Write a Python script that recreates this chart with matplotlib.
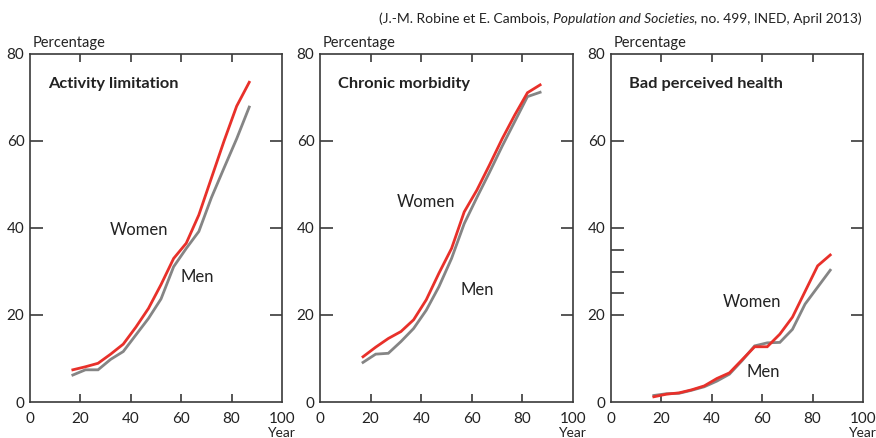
import matplotlib
matplotlib.use("Agg")
import matplotlib.pyplot as plt
from matplotlib.ticker import FixedLocator
from matplotlib.transforms import blended_transform_factory

plt.rcParams['font.family'] = ['Lato', 'DejaVu Sans']

ages = [17, 22, 27, 32, 37, 42, 47, 52, 57, 62, 67, 72, 77, 82, 87]

act_women = [7.4, 8.1, 8.9, 11.0, 13.3, 17.2, 21.5, 27.0, 33.0, 36.5, 43.0, 51.5, 60.0, 68.0, 73.5]
act_men = [6.2, 7.4, 7.4, 9.8, 11.6, 15.4, 19.2, 23.7, 31.1, 35.3, 39.2, 47.0, 53.8, 60.5, 67.8]

chr_women = [10.4, 12.6, 14.6, 16.2, 18.9, 23.5, 29.6, 35.3, 43.7, 48.7, 54.5, 60.5, 66.0, 71.1, 72.9]
chr_men = [9.1, 11.0, 11.2, 13.9, 16.9, 21.1, 26.5, 33.0, 41.0, 47.0, 52.8, 58.8, 64.5, 70.2, 71.2]

bad_women = [1.2, 1.8, 2.1, 2.8, 3.7, 5.4, 6.7, 9.7, 12.7, 12.7, 15.6, 19.5, 25.4, 31.3, 33.8]
bad_men = [1.5, 1.9, 2.0, 2.7, 3.5, 4.8, 6.4, 9.5, 12.9, 13.6, 13.7, 16.7, 22.5, 26.4, 30.3]

titles = ["Activity limitation", "Chronic morbidity", "Bad perceived health"]
women_series = [act_women, chr_women, bad_women]
men_series = [act_men, chr_men, bad_men]
women_label_pos = [(43.3, 39.5), (41.9, 46.0), (56.0, 23.0)]
men_label_pos = [(66.3, 28.7), (62.0, 25.7), (60.3, 6.9)]

x_ticks = [0, 20, 40, 60, 80, 100]
y_ticks = [0, 20, 40, 60, 80]

RED = "#e8302a"
GREY = "#858585"
SPINE = "#3a3a3a"
TXT = "#222222"

fig = plt.figure(figsize=(8.76, 4.38), dpi=100)
lefts = [30, 320, 611]
widths = [252, 253, 252]
W, H = 876, 438
for i in range(3):
    ax = fig.add_axes([lefts[i] / W, 36 / H, widths[i] / W, 348 / H])
    ax.plot(ages, men_series[i], color=GREY, lw=2.0, solid_joinstyle='miter', zorder=2)
    ax.plot(ages, women_series[i], color=RED, lw=2.0, solid_joinstyle='miter', zorder=3)
    ax.set_xlim(0, 100)
    ax.set_ylim(0, 80)
    for s in ax.spines.values():
        s.set_color(SPINE)
        s.set_linewidth(1.2)
    ax.xaxis.set_major_locator(FixedLocator(x_ticks))
    ax.yaxis.set_major_locator(FixedLocator(y_ticks))
    ax.set_xticklabels([str(v) for v in x_ticks])
    ax.set_yticklabels([str(v) for v in y_ticks])
    ax.tick_params(axis='x', direction='in', length=6, width=1.2, color=SPINE,
                   top=True, labelsize=11, labelcolor=TXT, pad=7)
    ax.tick_params(axis='y', direction='in', length=9, width=1.2, color=SPINE,
                   right=True, labelsize=11, labelcolor=TXT, pad=4)
    for t in ax.xaxis.get_major_ticks():
        if t.get_loc() in (0, 100):
            t.tick1line.set_visible(False)
            t.tick2line.set_visible(False)
    for t in ax.yaxis.get_major_ticks():
        if t.get_loc() in (0, 80):
            t.tick1line.set_visible(False)
            t.tick2line.set_visible(False)
    if i == 2:
        ax.yaxis.set_minor_locator(FixedLocator([25, 30, 35]))
        ax.tick_params(axis='y', which='minor', direction='in', length=9, width=1.2,
                       color=SPINE, right=False, left=True)
    ax.text(7, 73, titles[i], fontsize=11.8, fontweight='bold', color=TXT,
            ha='left', va='center')
    wx, wy = women_label_pos[i]
    mx, my = men_label_pos[i]
    ax.text(wx, wy, "Women", fontsize=12, color=TXT, ha='center', va='center')
    ax.text(mx, my, "Men", fontsize=12, color=TXT, ha='center', va='center')
    ax.text(0.01, 1.012, "Percentage", transform=ax.transAxes, fontsize=10.5,
            color=TXT, ha='left', va='bottom')
    tr = blended_transform_factory(ax.transAxes, fig.transFigure)
    ax.text(0.995, 1.0 / H, "Year", transform=tr, fontsize=10,
            color=TXT, ha='center', va='baseline')

# citation line (mixed italic)
fig.canvas.draw()
renderer = fig.canvas.get_renderer()
parts = [("(J.-M. Robine et E. Cambois, ", 'normal'),
         ("Population and Societies", 'italic'),
         (", no. 499, INED, April 2013)", 'normal')]
x_right = 862 / W
y_base = 1 - 19 / H
for text, style in reversed(parts):
    t = fig.text(x_right, y_base, text, fontsize=10, style=style, color=TXT,
                 ha='right', va='center')
    bb = t.get_window_extent(renderer)
    x_right = bb.x0 / W

fig.savefig("out.png", dpi=100)
